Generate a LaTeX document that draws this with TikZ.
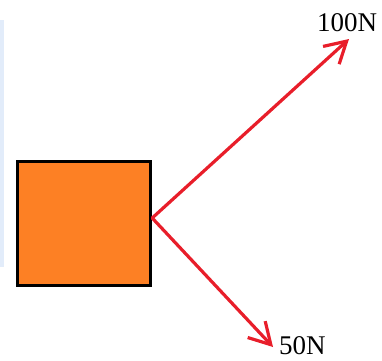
\documentclass[tikz,border=0pt]{standalone}
\usepackage{fontspec}
\setmainfont{Liberation Serif}
\usetikzlibrary{arrows.meta}
\definecolor{boxorange}{RGB}{253,128,36}
\definecolor{forcered}{RGB}{232,30,42}
\definecolor{stripblue}{RGB}{226,236,250}
\begin{document}
\begin{tikzpicture}[x=1pt,y=1pt,
  force/.style={draw=forcered,line width=3.2pt,line cap=round,-{Straight Barb[length=21pt,width=24pt,line width=3.2pt]}},
  lbl/.style={inner sep=0pt,anchor=base west,font=\fontsize{27}{29}\selectfont}]
\useasboundingbox (0,0) rectangle (382,360);
\fill[stripblue] (0,93) rectangle (4,340);
\node[draw=black,fill=boxorange,line width=3.4pt,minimum width=133pt,minimum height=124pt,inner sep=0pt] (sq) at (84,136.5) {};
\coordinate (tail) at ([yshift=5.5pt]sq.east);
\coordinate (t1) at (349,321);
\coordinate (t2) at (273,13);
\draw[force] (tail) -- (t1);
\draw[force] (tail) -- (t2);
\node[lbl] (l1) at (317,329) {100N};
\node[lbl] (l2) at (279,6) {50N};
\end{tikzpicture}
\end{document}
